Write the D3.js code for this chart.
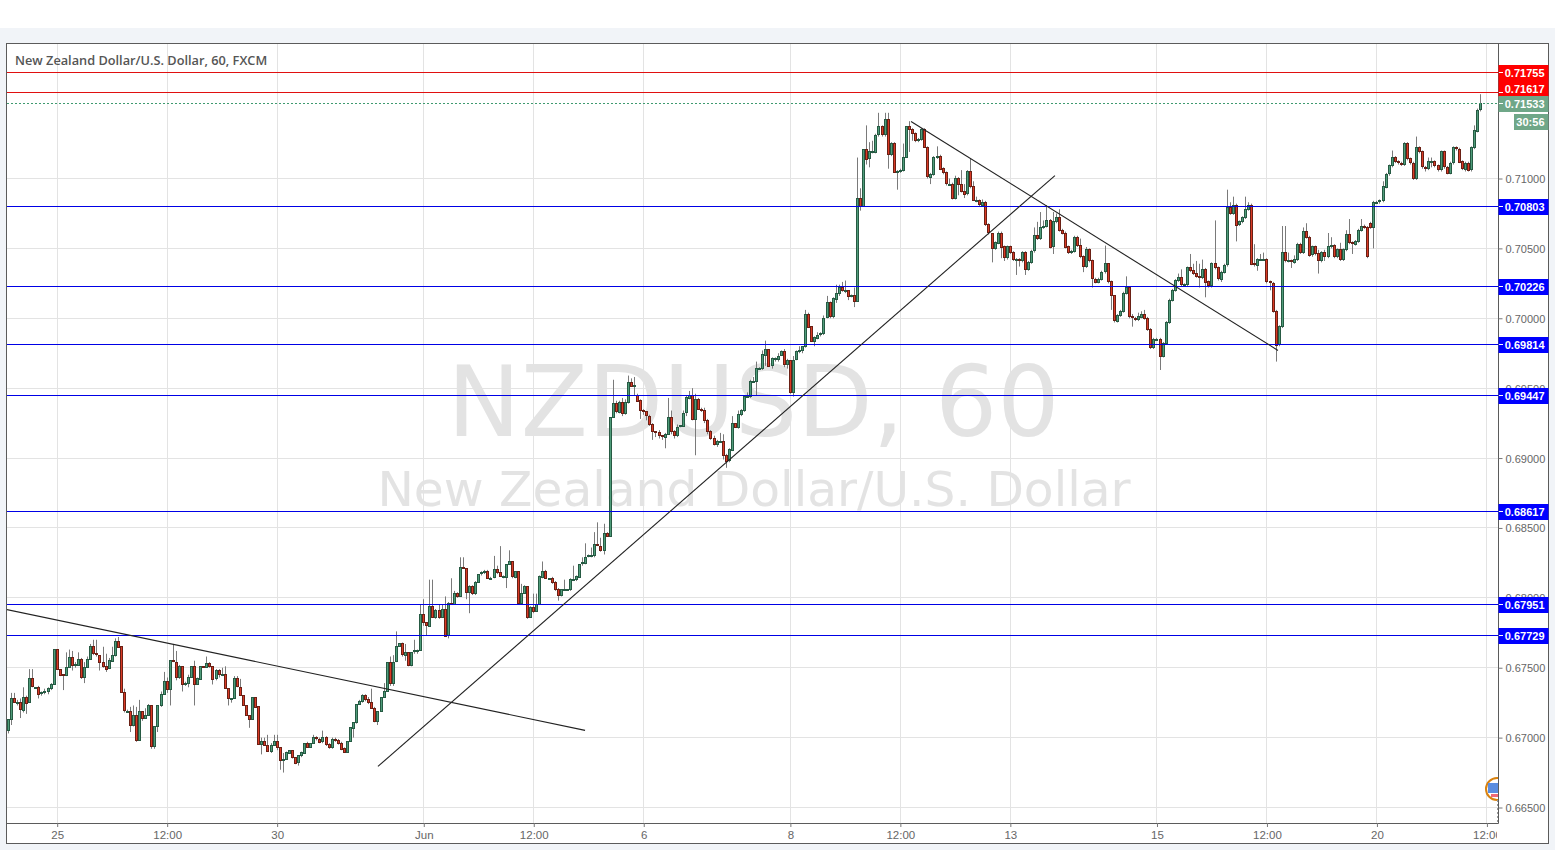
<!DOCTYPE html>
<html><head><meta charset="utf-8">
<script src="https://cdn.jsdelivr.net/npm/d3@7"></script>
<style>html,body{margin:0;padding:0;background:#f1f4f8;overflow:hidden}svg{display:block}text{font-family:"Open Sans",sans-serif}</style>
</head><body><svg id="c" width="1555" height="850"></svg>
<script>
// all candle values are in pips (price x 10000)
const firstOpen = 6705;
const closes = [
6713,6728,6725,6725,6720,6729,6725,6742,6736,6736,
6731,6732,6733,6735,6738,6763,6749,6745,6744,6750,
6757,6751,6752,6756,6743,6750,6756,6765,6760,6759,
6754,6751,6749,6755,6759,6769,6765,6732,6719,6719,
6709,6716,6698,6719,6714,6716,6723,6694,6708,6723,
6731,6740,6734,6755,6754,6743,6751,6738,6739,6743,
6751,6738,6742,6751,6750,6753,6751,6742,6748,6745,
6745,6735,6728,6728,6742,6736,6730,6723,6716,6713,
6729,6722,6695,6697,6694,6690,6694,6697,6693,6684,
6684,6689,6691,6686,6682,6687,6689,6696,6693,6696,
6700,6699,6697,6700,6695,6693,6699,6698,6696,6692,
6689,6697,6707,6711,6724,6726,6730,6727,6725,6721,
6712,6719,6729,6733,6754,6739,6754,6765,6767,6759,
6761,6752,6761,6762,6762,
6788,6782,6780,6794,6786,6791,6786,6792,6773,6796,
6795,6803,6801,6822,6821,6804,6808,6803,6811,6817,
6818,6819,6814,6814,6820,6818,6815,6815,6824,6826,
6815,6819,6796,6803,6808,6786,6793,6790,6795,6815,
6819,6814,6814,6811,6806,6802,6806,6806,6806,6813,
6813,6815,6824,6825,6829,6830,6830,6838,6837,6834,
6846,6844,6929,6939,6933,6940,6932,6940,6954,6951,
6952,6941,6934,6933,6930,6924,6919,6918,6916,6915,
6917,6929,6919,6916,6922,6923,6932,6943,6945,6928,
6942,6935,6934,6927,6919,6914,6910,6912,6912,6902,
6898,6906,6925,6922,6931,6934,6944,6944,6955,6955,
6964,6964,6974,6978,6966,6971,6971,6973,6976,6967,
6970,6947,6970,6976,6977,6980,7003,6994,6983,6986,
6988,6989,7000,7011,
7001,7014,7018,7022,7020,7020,7016,7016,7012,7086,
7080,7121,7114,7119,7119,7131,7137,7131,7142,7117,
7125,7104,7105,7106,7115,7137,7135,7132,7127,7128,
7135,7122,7101,7103,7115,7116,7107,7104,7096,7096,
7086,7100,7096,7091,7089,7105,7094,7084,7084,7081,
7083,7067,7061,7050,7054,7061,7051,7043,7051,7047,
7042,7042,7041,7047,7035,7040,7048,7059,7057,7065,
7066,7070,7051,7069,7072,7063,7061,7051,7047,7048,
7058,7052,7044,7037,7049,7041,7028,7026,7028,7033,
7039,7026,7016,6998,7002,7005,7018,7022,7001,7000,
6999,7001,7003,7000,6992,6979,6985,6985,6973,6982,
6997,7013,7020,7027,7029,7024,7024,7036,7034,7032,
7030,7029,7035,7026,7023,7039,7036,7028,7033,7038,
7079,7075,7081,7067,7069,7072,7078,7081,7039,7038,
7042,7042,7042,7026,7025,7005,6981,6994,7047,7041,
7041,7040,7042,7053,7047,7062,7058,7045,7051,7046,
7041,7047,7044,7051,7052,7044,7049,7042,7049,7060,
7054,7053,7055,7063,7066,7065,7044,7065,7083,7083,
7084,7094,7103,7109,7115,7112,7111,7110,7125,7114,
7111,7100,7122,7119,7108,7107,7112,7112,7109,7106,
7119,7108,7104,7111,7122,7121,7112,7107,7111,7106,
7122,7134,7149,7153.3];
// candles whose open differs from the previous close: [candle, open]
const openGaps = [[206,6945],[446,7068]];
const upperWicks = [
0,4,4,2,3,7,1,7,7,0,1,1,2,1,1,0,0,0,0,11,
6,5,2,5,1,4,2,2,5,10,0,11,9,2,6,2,3,0,3,1,
3,7,6,8,0,5,1,0,0,0,2,7,3,0,12,8,1,0,1,2,
0,4,1,0,0,5,1,0,1,1,5,6,0,0,2,2,6,0,0,0,
0,0,0,3,3,8,2,5,5,0,5,1,0,0,0,0,1,0,1,0,
2,1,1,5,1,1,1,1,1,1,1,0,0,0,0,1,1,1,2,10,
1,0,0,6,0,4,5,11,0,1,6,0,0,8,1,
7,11,0,19,19,1,4,3,9,1,18,2,1,7,7,0,1,1,1,0,
1,1,1,1,10,3,19,1,0,8,0,0,0,7,1,0,1,10,8,1,
7,1,0,1,1,1,0,7,0,1,10,1,0,4,10,1,6,9,16,6,
7,1,0,17,2,1,3,2,5,3,6,1,1,1,0,1,1,0,2,0,
1,14,5,1,2,0,2,2,3,5,4,1,1,2,1,1,2,1,6,5,
1,1,5,0,3,1,0,3,1,3,5,1,3,6,0,1,1,2,1,2,
1,0,3,1,3,0,3,1,0,1,2,1,2,5,
1,1,6,2,4,7,0,1,6,29,7,0,17,7,8,1,10,1,5,5,
1,1,1,1,10,0,4,1,1,1,1,1,1,1,1,7,1,1,1,4,
1,2,1,10,5,1,9,4,3,1,2,1,1,0,1,1,1,1,1,1,
1,1,1,1,1,1,1,6,10,11,4,11,1,7,3,6,1,1,1,1,
1,1,5,1,2,1,1,1,1,1,13,0,1,0,1,1,1,8,1,2,
1,3,2,3,1,1,1,1,1,1,1,1,1,1,3,6,1,1,10,5,
9,9,7,1,1,1,31,1,1,1,13,4,6,1,1,1,9,2,1,14,
1,4,5,1,1,1,1,1,19,19,6,1,3,1,1,3,6,1,1,1,
3,1,2,10,6,1,1,5,1,3,11,1,1,1,5,1,1,1,1,1,
1,4,1,1,5,1,1,1,1,1,1,1,8,1,1,1,3,3,1,1,
1,1,1,1,1,1,1,1,1,1,1,4,1,7];
const lowerWicks = [
2,4,0,2,6,2,8,0,0,1,3,1,1,2,1,0,0,1,10,0,
0,3,1,0,1,4,0,0,1,1,6,1,2,0,0,1,0,0,1,1,
5,1,1,0,2,0,0,2,2,4,1,0,2,11,0,2,1,5,1,3,
0,15,0,0,0,0,1,4,1,2,1,0,5,3,0,0,0,0,0,6,
0,0,0,7,0,0,1,0,2,7,9,0,0,1,1,2,1,0,0,0,
0,1,1,1,1,1,1,1,1,1,0,0,0,7,1,0,1,1,1,0,
1,3,0,0,0,2,2,0,0,1,4,1,1,1,2,
0,2,7,0,0,1,1,0,0,2,0,0,1,0,0,5,15,1,1,0,
1,1,0,1,0,1,0,1,8,0,1,1,1,1,0,1,0,1,0,0,
1,0,0,1,1,4,1,1,1,1,1,1,0,1,1,0,1,1,0,1,
3,0,0,0,1,1,2,1,1,0,6,0,6,2,3,1,6,3,2,2,
8,0,2,2,1,0,0,2,1,1,26,0,1,2,2,1,1,2,1,3,
5,1,1,0,1,1,1,0,1,1,10,1,1,8,0,2,2,2,0,2,
3,1,3,0,1,2,1,1,0,3,1,1,1,0,
1,1,3,2,1,2,3,1,4,0,3,0,4,6,1,1,1,1,1,10,
1,0,12,1,1,0,16,5,1,1,1,0,1,5,1,1,1,1,1,1,
1,1,8,1,3,1,1,0,1,1,1,1,1,10,1,1,8,2,1,1,
1,11,4,1,4,1,1,1,1,1,1,1,1,5,1,1,1,1,1,1,
1,1,1,4,1,1,6,1,1,1,1,1,10,1,1,1,1,1,1,6,
1,1,1,1,1,1,1,1,10,1,1,1,1,1,1,1,1,1,1,1,
1,7,1,11,1,1,1,1,2,1,1,1,1,12,1,1,1,1,1,1,
4,1,1,1,5,1,12,1,1,1,1,4,1,1,1,1,1,1,1,1,
9,1,3,1,1,1,1,1,1,1,1,7,1,1,1,1,1,1,15,1,
1,1,1,1,1,1,1,1,1,1,1,1,1,1,1,2,1,4,1,1,
1,1,1,1,1,1,1,1,2,1,1,1,1,1];

const priceTicks = [0.665,0.67,0.675,0.68,0.685,0.69,0.695,0.70,0.705,0.71];
const timeTicks = [16,52,88,136,172,208,256,292,328,376,412,448,484];
const timeLabels = ["25","12:00","30","Jun","12:00","6","8","12:00","13","15","12:00","20","12:00"];
const redLevels = [0.71755,0.71617];
const blueLevels = [0.70803,0.70226,0.69814,0.69447,0.68617,0.67951,0.67729];
const lastPrice = 0.71533;
const countdown = "30:56";
// trend lines as [candle, pips] pairs
const trendLines = [
 [[-0.75,6791.7],[188.8,6705.2]],
 [[121,6679.4],[342.6,7102.1]],
 [[295.5,7140.8],[415.6,6977]]
];
const titleText = "New Zealand Dollar/U.S. Dollar, 60, FXCM";
const markSymbol = "NZDUSD, 60";
const markName = "New Zealand Dollar/U.S. Dollar";

const gapMap = new Map(openGaps);
const candles = closes.map((c,i)=>{
  const o = gapMap.has(i) ? gapMap.get(i) : (i ? closes[i-1] : firstOpen);
  return {i,o,c,h:Math.max(o,c)+(upperWicks[i]||0),l:Math.min(o,c)-(lowerWicks[i]||0)};
});

const L=7,R=1498,T=43,B=823;
const axisFont='"Liberation Sans",Arial,sans-serif';
const x = d3.scaleLinear().domain([0,482]).range([8.3,1480.8]);
const y = d3.scaleLinear().domain([0.665,0.71]).range([807.5,178.5]);
const yp = p=>y(p/10000);
const snap = v=>Math.floor(v)+0.5;

const svg = d3.select("#c");
svg.append("rect").attr("width",1555).attr("height",28).attr("fill","#fff");
svg.append("rect").attr("x",6.5).attr("y",43.5).attr("width",1542).attr("height",800).attr("fill","#fff").attr("stroke","#5b5b5b").attr("stroke-width",1).attr("shape-rendering","crispEdges");

const defs = svg.append("defs");
defs.append("clipPath").attr("id","pane").append("rect").attr("x",L).attr("y",T+1).attr("width",R-L).attr("height",B-T-1);
defs.append("clipPath").attr("id","xlabs").append("rect").attr("x",0).attr("y",0).attr("width",R-1).attr("height",20);
const pane = svg.append("g").attr("clip-path","url(#pane)");

// grid
pane.append("g").selectAll("line").data(priceTicks).join("line")
 .attr("x1",L).attr("x2",R).attr("y1",d=>snap(y(d))).attr("y2",d=>snap(y(d))).attr("stroke","#e3e3e3").attr("stroke-width",1);
pane.append("g").selectAll("line").data(timeTicks).join("line")
 .attr("x1",d=>snap(x(d))).attr("x2",d=>snap(x(d))).attr("y1",T).attr("y2",B).attr("stroke","#e3e3e3").attr("stroke-width",1);

// watermark
const markFont='"DejaVu Sans",sans-serif';
pane.append("text").text(markSymbol).attr("x",753.5).attr("y",436).attr("text-anchor","middle").attr("font-size",98).attr("fill","#e3e3e3").style("font-family",markFont);
pane.append("text").text(markName).attr("x",754).attr("y",506).attr("text-anchor","middle").attr("font-size",48.7).attr("fill","#e3e3e3").style("font-family",markFont);

// title
svg.append("text").text(titleText).attr("x",15).attr("y",65).attr("font-size",12.75).attr("font-weight",600).attr("fill","#555");

// candles
const cg = pane.append("g");
cg.selectAll("line").data(candles).join("line")
 .attr("x1",d=>Math.floor(x(d.i))+0.5).attr("x2",d=>Math.floor(x(d.i))+0.5)
 .attr("y1",d=>yp(d.h)).attr("y2",d=>yp(d.l)).attr("stroke","#7a7a7a").attr("stroke-width",1);
cg.selectAll("rect").data(candles).join("rect")
 .attr("x",d=>Math.floor(x(d.i))-0.5).attr("width",2)
 .attr("y",d=>snap(yp(Math.max(d.o,d.c))))
 .attr("height",d=>Math.max(1,Math.round(Math.abs(yp(d.o)-yp(d.c)))))
 .attr("fill",d=>d.c>=d.o?"#4f9c7a":"#d93a25")
 .attr("stroke",d=>d.c>=d.o?"#265a43":"#6a2015").attr("stroke-width",1);

// levels
pane.append("g").selectAll("line").data(blueLevels).join("line")
 .attr("x1",L).attr("x2",R).attr("y1",d=>snap(y(d))).attr("y2",d=>snap(y(d))).attr("stroke","#0000e6").attr("stroke-width",1);
pane.append("g").selectAll("line").data(redLevels).join("line")
 .attr("x1",L).attr("x2",R).attr("y1",d=>snap(y(d))).attr("y2",d=>snap(y(d))).attr("stroke","#e01010").attr("stroke-width",1);
pane.append("line").attr("x1",L).attr("x2",R).attr("y1",snap(y(lastPrice))).attr("y2",snap(y(lastPrice)))
 .attr("stroke","#3f9a70").attr("stroke-dasharray","2,2").attr("stroke-width",1);

// trend lines
const tl = d3.line().x(d=>x(d[0])).y(d=>yp(d[1]));
pane.append("g").selectAll("path").data(trendLines).join("path").attr("d",tl).attr("fill","none").attr("stroke","#222").attr("stroke-width",1.1);

// flag
const flag = pane.append("g");
flag.append("circle").attr("cx",1497).attr("cy",789).attr("r",11).attr("fill","#fff").attr("stroke","#d9820f").attr("stroke-width",2);
flag.append("rect").attr("x",1488).attr("y",783).attr("width",10).attr("height",10).attr("fill","#5b8de0");
flag.append("rect").attr("x",1491).attr("y",794).attr("width",7).attr("height",3).attr("fill","#ee6a78");
svg.append("line").attr("x1",1497.5).attr("x2",1497.5).attr("y1",800).attr("y2",823).attr("stroke","#999").attr("stroke-dasharray","2,2");

// axes frames
svg.append("line").attr("x1",R+0.5).attr("x2",R+0.5).attr("y1",T).attr("y2",B+0.5).attr("stroke","#5b5b5b");
svg.append("line").attr("x1",L-1).attr("x2",R+0.5).attr("y1",B+0.5).attr("y2",B+0.5).attr("stroke","#5b5b5b");

const ya = svg.append("g").attr("transform",`translate(${R+0.5},0)`)
 .call(d3.axisRight(y).tickValues(priceTicks).tickFormat(d3.format(".5f")).tickSize(4).tickPadding(3));
ya.select(".domain").remove();
ya.selectAll("line").attr("stroke","#777");
ya.selectAll("text").attr("font-size",11).attr("fill","#666").attr("dy","0.36em").style("font-family",axisFont);

const xa = svg.append("g").attr("transform",`translate(0,${B})`).attr("clip-path","url(#xlabs)")
 .call(d3.axisBottom(x).tickValues(timeTicks).tickFormat((d,i)=>timeLabels[i]).tickSize(4).tickPadding(4));
xa.select(".domain").remove();
xa.selectAll("line").attr("stroke","#777");
xa.selectAll("text").attr("font-size",11.5).attr("fill","#666").style("font-family",axisFont);

// price tags: the label centre can sit off its line when tags would collide
const tagNudge = new Map([[0.71617,-3.5]]);
const tag=(p,col)=>{
  const yy=y(p), cy=Math.round(yy+0.5+(tagNudge.get(p)||0));
  svg.append("rect").attr("x",R+0.5).attr("y",cy-8).attr("width",50).attr("height",16).attr("fill",col);
  svg.append("line").attr("x1",R+1).attr("x2",R+5).attr("y1",snap(yy)).attr("y2",snap(yy)).attr("stroke","#fff");
  svg.append("text").text(d3.format(".5f")(p)).attr("x",1544.5).attr("y",cy+4).attr("text-anchor","end")
    .attr("font-size",11).attr("font-weight",700).attr("fill","#fff").style("font-family",axisFont);
};
redLevels.forEach(p=>tag(p,"#ff0000"));
tag(lastPrice,"#6fa788");
blueLevels.forEach(p=>tag(p,"#0000ff"));
svg.append("rect").attr("x",1514).attr("y",114).attr("width",34.5).attr("height",16).attr("fill","#6fa788");
svg.append("text").text(countdown).attr("x",1544.5).attr("y",126).attr("text-anchor","end").attr("font-size",11).attr("font-weight",700).attr("fill","#fff").style("font-family",axisFont);
</script></body></html>
